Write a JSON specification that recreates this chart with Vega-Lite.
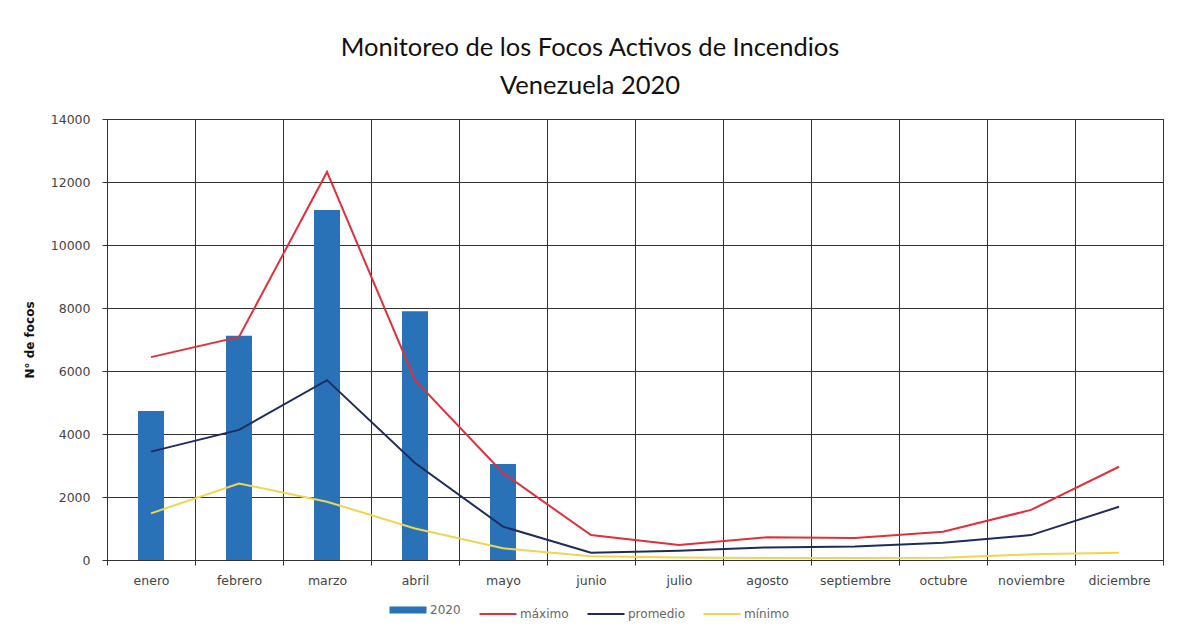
{
  "$schema": "https://vega.github.io/schema/vega-lite/v6.json",
  "width": 1056,
  "height": 441,
  "autosize": {"type": "none"},
  "padding": {"left": 107, "top": 119, "right": 18, "bottom": 77},
  "background": "white",
  "title": {
    "text": ["Monitoreo de los Focos Activos de Incendios", "Venezuela 2020"],
    "font": "Lato",
    "fontSize": 25.5,
    "fontWeight": "normal",
    "color": "#111",
    "lineHeight": 38,
    "anchor": "middle",
    "dx": -45,
    "offset": 14
  },
  "data": {
    "values": [
      {"mes": "enero", "serie": "2020", "valor": 4730},
      {"mes": "febrero", "serie": "2020", "valor": 7120},
      {"mes": "marzo", "serie": "2020", "valor": 11110},
      {"mes": "abril", "serie": "2020", "valor": 7900},
      {"mes": "mayo", "serie": "2020", "valor": 3050},
      {"mes": "enero", "serie": "máximo", "valor": 6440},
      {"mes": "febrero", "serie": "máximo", "valor": 7080},
      {"mes": "marzo", "serie": "máximo", "valor": 12320},
      {"mes": "abril", "serie": "máximo", "valor": 5710},
      {"mes": "mayo", "serie": "máximo", "valor": 2760},
      {"mes": "junio", "serie": "máximo", "valor": 790},
      {"mes": "julio", "serie": "máximo", "valor": 480},
      {"mes": "agosto", "serie": "máximo", "valor": 720},
      {"mes": "septiembre", "serie": "máximo", "valor": 700},
      {"mes": "octubre", "serie": "máximo", "valor": 900},
      {"mes": "noviembre", "serie": "máximo", "valor": 1590},
      {"mes": "diciembre", "serie": "máximo", "valor": 2960},
      {"mes": "enero", "serie": "promedio", "valor": 3440},
      {"mes": "febrero", "serie": "promedio", "valor": 4130},
      {"mes": "marzo", "serie": "promedio", "valor": 5710},
      {"mes": "abril", "serie": "promedio", "valor": 3080},
      {"mes": "mayo", "serie": "promedio", "valor": 1060},
      {"mes": "junio", "serie": "promedio", "valor": 230},
      {"mes": "julio", "serie": "promedio", "valor": 295},
      {"mes": "agosto", "serie": "promedio", "valor": 400},
      {"mes": "septiembre", "serie": "promedio", "valor": 430},
      {"mes": "octubre", "serie": "promedio", "valor": 550},
      {"mes": "noviembre", "serie": "promedio", "valor": 790},
      {"mes": "diciembre", "serie": "promedio", "valor": 1690},
      {"mes": "enero", "serie": "mínimo", "valor": 1480},
      {"mes": "febrero", "serie": "mínimo", "valor": 2430},
      {"mes": "marzo", "serie": "mínimo", "valor": 1850},
      {"mes": "abril", "serie": "mínimo", "valor": 1000},
      {"mes": "mayo", "serie": "mínimo", "valor": 370},
      {"mes": "junio", "serie": "mínimo", "valor": 120},
      {"mes": "julio", "serie": "mínimo", "valor": 80},
      {"mes": "agosto", "serie": "mínimo", "valor": 60},
      {"mes": "septiembre", "serie": "mínimo", "valor": 60},
      {"mes": "octubre", "serie": "mínimo", "valor": 70},
      {"mes": "noviembre", "serie": "mínimo", "valor": 180},
      {"mes": "diciembre", "serie": "mínimo", "valor": 230}
    ]
  },
  "encoding": {
    "x": {
      "field": "mes",
      "type": "nominal",
      "sort": ["enero","febrero","marzo","abril","mayo","junio","julio","agosto","septiembre","octubre","noviembre","diciembre"],
      "scale": {"paddingInner": 0, "paddingOuter": 0},
      "axis": {
        "title": null,
        "labelAngle": 0,
        "labelFont": "DejaVu Sans",
        "labelFontSize": 12.5,
        "labelColor": "#444",
        "labelPadding": 9,
        "tickBand": "extent",
        "grid": true,
        "gridColor": "#333",
        "gridWidth": 1,
        "tickColor": "#333",
        "tickSize": 5,
        "domainColor": "#333"
      }
    },
    "y": {
      "field": "valor",
      "type": "quantitative",
      "scale": {"domain": [0, 14000]},
      "axis": {
        "title": "N° de focos",
        "titleFont": "DejaVu Sans",
        "titleFontSize": 12,
        "titleFontWeight": "bold",
        "titleColor": "#111",
        "titlePadding": 14,
        "values": [0, 2000, 4000, 6000, 8000, 10000, 12000, 14000],
        "format": "d",
        "labelFont": "DejaVu Sans",
        "labelFontSize": 12.5,
        "labelColor": "#444",
        "labelPadding": 12,
        "gridColor": "#333",
        "gridWidth": 1,
        "tickColor": "#333",
        "tickSize": 5,
        "domainColor": "#333"
      }
    },
    "color": {
      "field": "serie",
      "type": "nominal",
      "scale": {
        "domain": ["2020", "máximo", "promedio", "mínimo"],
        "range": ["#2a72b8", "#e0303c", "#1f2b5c", "#f0d54e"]
      },
      "legend": {
        "title": null,
        "orient": "none",
        "direction": "horizontal",
        "legendX": 295,
        "legendY": 485,
        "symbolType": "stroke",
        "symbolSize": 1369,
        "symbolStrokeWidth": 2,
        "labelFont": "DejaVu Sans",
        "labelFontSize": 12,
        "labelColor": "#666",
        "labelOffset": 16,
        "columnPadding": 14,
        "encode": {
          "symbols": {
            "update": {
              "strokeWidth": {"signal": "datum.value === '2020' ? 7 : 2"}
            }
          }
        }
      }
    }
  },
  "layer": [
    {
      "transform": [{"filter": "datum.serie === '2020'"}],
      "mark": {"type": "bar", "size": 26}
    },
    {
      "transform": [{"filter": "datum.serie !== '2020'"}],
      "mark": {"type": "line", "strokeWidth": 2}
    }
  ],
  "config": {
    "view": {"stroke": "#333", "strokeWidth": 1}
  }
}
